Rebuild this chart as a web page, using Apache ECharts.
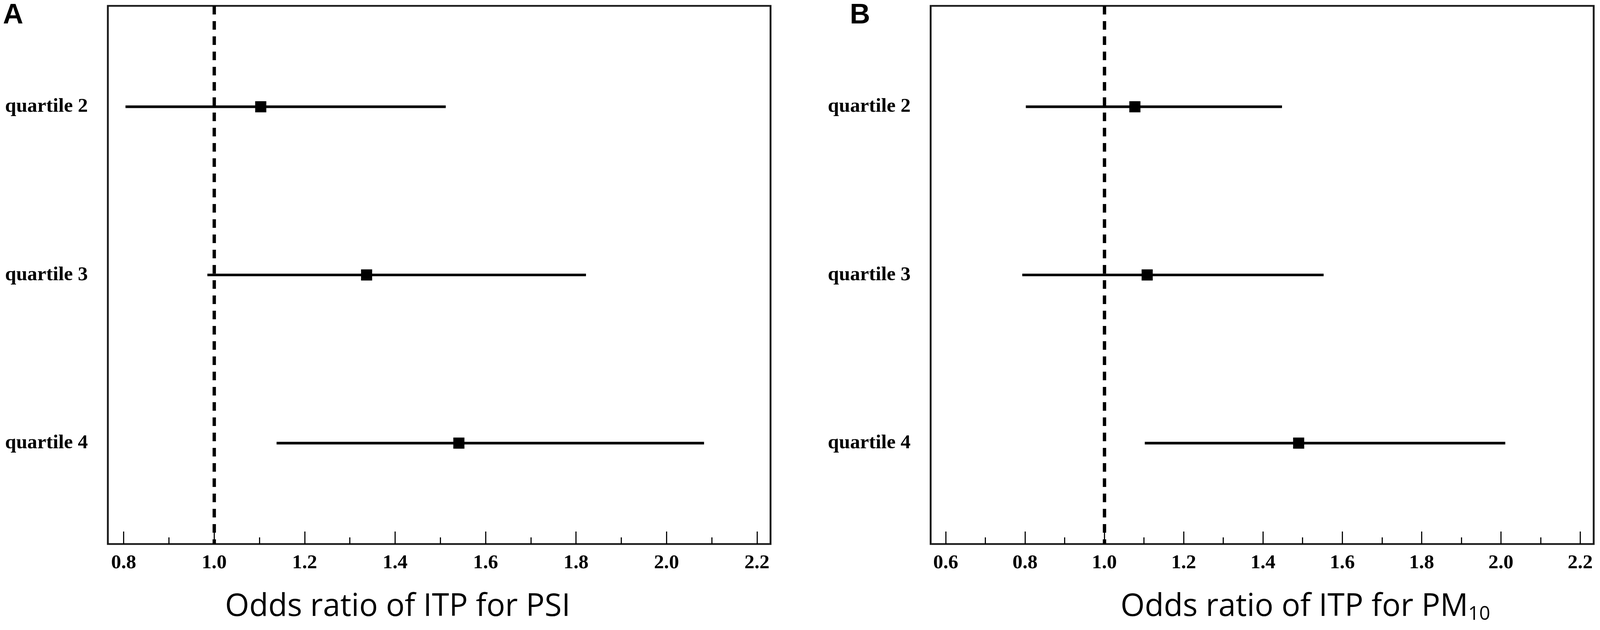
<!DOCTYPE html>
<html>
<head>
<meta charset="utf-8">
<script src="https://cdn.jsdelivr.net/npm/echarts@6/dist/echarts.min.js"></script>
<style>
  html, body { margin: 0; padding: 0; background: #fff; overflow: hidden; }
  #main { width: 100vw; height: 100vh; }
</style>
</head>
<body>
<div id="main"></div>
<script>
// rows, top to bottom
var categories = ['quartile 2', 'quartile 3', 'quartile 4'];

// panel A: PSI
var psiOR = [1.103, 1.337, 1.541];
var psiLower = [0.804, 0.985, 1.138];
var psiUpper = [1.512, 1.822, 2.083];

// panel B: PM10
var pmOR = [1.077, 1.108, 1.490];
var pmLower = [0.802, 0.793, 1.102];
var pmUpper = [1.448, 1.553, 2.011];

// tick marks
var psiMajorTicks = [0.8, 1.0, 1.2, 1.4, 1.6, 1.8, 2.0, 2.2];
var psiMinorTicks = [0.9, 1.1, 1.3, 1.5, 1.7, 1.9, 2.1];
var pmMajorTicks = [0.6, 0.8, 1.0, 1.2, 1.4, 1.6, 1.8, 2.0, 2.2];
var pmMinorTicks = [0.7, 0.9, 1.1, 1.3, 1.5, 1.7, 1.9, 2.1];

var refLine = 1.0;

// layout is measured on a 4317x1612 page, scaled to the viewport we get
var dom = document.getElementById('main');
var W = dom.clientWidth || 4317, H = dom.clientHeight || 1612;
var kx = W / 4317, ky = H / 1612, k = Math.min(kx, ky);
function X(v) { return v * kx; }
function Y(v) { return v * ky; }
function S(v) { return v * k; }

var chart = echarts.init(dom);

function majorAxis(gridIndex, min, max, ticks) {
  return {
    type: 'value', gridIndex: gridIndex, min: min, max: max, position: 'bottom',
    splitLine: { show: false },
    axisLine: { show: false, onZero: false },
    axisTick: { show: true, inside: true, length: Y(32), customValues: ticks,
      lineStyle: { color: '#000', width: S(3) } },
    axisLabel: { show: true, customValues: ticks, margin: Y(23),
      fontFamily: 'Liberation Serif', fontWeight: 'bold', fontSize: S(54), color: '#000',
      formatter: function (v) { return v.toFixed(1); } }
  };
}

function minorAxis(gridIndex, min, max, ticks) {
  return {
    type: 'value', gridIndex: gridIndex, min: min, max: max, position: 'bottom',
    splitLine: { show: false },
    axisLine: { show: false, onZero: false },
    axisTick: { show: true, inside: true, length: Y(17), customValues: ticks,
      lineStyle: { color: '#000', width: S(3) } },
    axisLabel: { show: false }
  };
}

function rowAxis(gridIndex) {
  return {
    type: 'value', gridIndex: gridIndex, min: -0.6, max: 2.6, inverse: true,
    splitLine: { show: false },
    axisLine: { show: false, onZero: false },
    axisTick: { show: false },
    axisLabel: { show: true, customValues: [0, 1, 2], margin: X(54),
      fontFamily: 'Liberation Serif', fontWeight: 'bold', fontSize: S(54), color: '#000',
      formatter: function (v) { return categories[v]; } }
  };
}

function renderBar(params, api) {
  var p1 = api.coord([api.value(0), api.value(2)]);
  var p2 = api.coord([api.value(1), api.value(2)]);
  return {
    type: 'line',
    shape: { x1: p1[0], y1: p1[1], x2: p2[0], y2: p2[1] },
    style: { stroke: '#000', lineWidth: S(7) }
  };
}

function ciData(lower, upper) {
  return lower.map(function (lo, i) { return [lo, upper[i], i]; });
}

function pointData(or) {
  return or.map(function (v, i) { return [v, i]; });
}

var refMark = {
  silent: true,
  symbol: ['none', 'none'],
  label: { show: false },
  lineStyle: { color: '#000', width: S(9), type: [Y(22), Y(17)] },
  data: [{ xAxis: refLine }]
};

chart.setOption({
  animation: false,
  backgroundColor: '#fff',
  grid: [
    { left: X(291), top: Y(15), width: X(2079 - 291), height: Y(1392 - 15),
      show: true, borderColor: '#1a1a1a', borderWidth: S(5) },
    { left: X(2511), top: Y(15), width: X(4300 - 2511), height: Y(1392 - 15),
      show: true, borderColor: '#1a1a1a', borderWidth: S(5) }
  ],
  xAxis: [
    majorAxis(0, 0.765, 2.23, psiMajorTicks),
    minorAxis(0, 0.765, 2.23, psiMinorTicks),
    majorAxis(1, 0.562, 2.234, pmMajorTicks),
    minorAxis(1, 0.562, 2.234, pmMinorTicks)
  ],
  yAxis: [rowAxis(0), rowAxis(1)],
  series: [
    { type: 'custom', xAxisIndex: 0, yAxisIndex: 0, renderItem: renderBar,
      encode: { x: [0, 1], y: 2 }, data: ciData(psiLower, psiUpper), z: 3 },
    { type: 'scatter', xAxisIndex: 0, yAxisIndex: 0, symbol: 'rect', symbolSize: S(30),
      itemStyle: { color: '#000', opacity: 1 }, data: pointData(psiOR), z: 4,
      markLine: refMark },
    { type: 'custom', xAxisIndex: 2, yAxisIndex: 1, renderItem: renderBar,
      encode: { x: [0, 1], y: 2 }, data: ciData(pmLower, pmUpper), z: 3 },
    { type: 'scatter', xAxisIndex: 2, yAxisIndex: 1, symbol: 'rect', symbolSize: S(30),
      itemStyle: { color: '#000', opacity: 1 }, data: pointData(pmOR), z: 4,
      markLine: refMark }
  ],
  graphic: [
    { type: 'text', x: X(8), y: Y(40),
      style: { text: 'A', fontFamily: 'Liberation Sans', fontWeight: 'bold', fontSize: S(76),
        fill: '#000', textAlign: 'left', textVerticalAlign: 'middle' } },
    { type: 'text', x: X(2293), y: Y(40),
      style: { text: 'B', fontFamily: 'Liberation Sans', fontWeight: 'bold', fontSize: S(76),
        fill: '#000', textAlign: 'left', textVerticalAlign: 'middle' } },
    { type: 'text', x: X(1073), y: Y(1553),
      style: { text: 'Odds ratio of ITP for PSI', fontFamily: 'Open Sans', fontSize: S(84),
        fill: '#000', textAlign: 'center', textVerticalAlign: 'middle' } },
    { type: 'text', x: X(3522), y: Y(1553),
      style: { text: '{a|Odds ratio of ITP for PM}{s|10}', fill: '#000',
        textAlign: 'center', textVerticalAlign: 'middle',
        rich: {
          a: { fontFamily: 'Open Sans', fontSize: S(84), lineHeight: S(100) },
          s: { fontFamily: 'Open Sans', fontSize: S(52), lineHeight: S(100), padding: [S(40), 0, 0, 0] }
        } } }
  ]
});
</script>
</body>
</html>
